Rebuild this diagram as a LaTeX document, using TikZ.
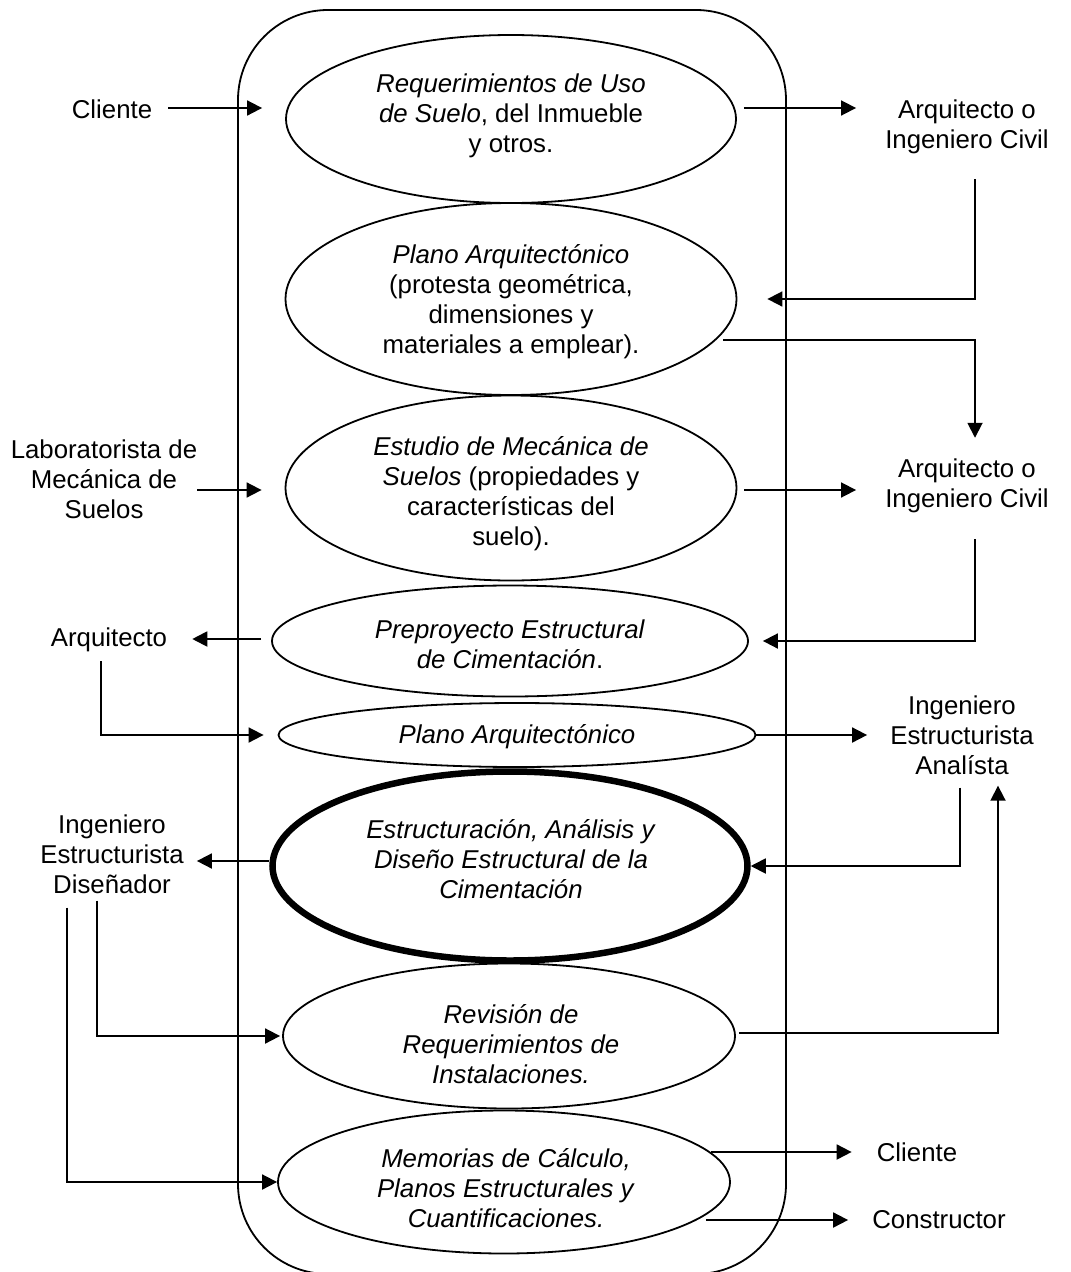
\documentclass[tikz,border=0pt]{standalone}
\usepackage{fontspec}
\setmainfont{Liberation Sans}
\usetikzlibrary{shapes.geometric,arrows.meta,calc}
\begin{document}
\begin{tikzpicture}[x=1pt,y=-1pt,
  txt/.style={inner sep=0pt, align=center, font=\fontsize{25.8}{30}\selectfont},
  ell/.style={draw, ellipse, line width=1.8pt, inner sep=0pt},
  arr/.style={draw, line width=1.8pt, -{Triangle[length=15pt,width=15pt]}},
  ]
\useasboundingbox (0,0) rectangle (1071,1272);
% frame
\node[draw, line width=1.8pt, rounded corners=90pt, minimum width=548pt, minimum height=1264pt, inner sep=0pt] (frame) at (512,642) {};
% ellipses
\node[ell, minimum width=450pt, minimum height=168pt] (e1) at (511,119) {};
\node[ell, minimum width=451pt, minimum height=192pt] (e2) at (511,299) {};
\node[ell, minimum width=451pt, minimum height=185pt] (e3) at (511,488) {};
\node[ell, minimum width=476pt, minimum height=111pt] (e4) at (510,641) {};
\node[ell, minimum width=477pt, minimum height=64pt] (e5) at (517,735) {};
\node[ell, line width=6.5pt, minimum width=475pt, minimum height=189pt] (e6) at (510,866) {};
\node[ell, minimum width=452pt, minimum height=145pt] (e7) at (509,1036) {};
\node[ell, minimum width=452pt, minimum height=143pt] (e8) at (504,1182) {};
% ellipse texts
\node[txt] (t1) at (511,116) {\textit{Requerimientos de Uso}\\\textit{de Suelo}, del Inmueble\\y otros.};
\node[txt] (t2) at (511,302) {\textit{Plano Arquitectónico}\\(protesta geométrica,\\dimensiones y\\materiales a emplear).};
\node[txt] (t3) at (511,494) {\textit{Estudio de Mecánica de}\\\textit{Suelos} (propiedades y\\características del\\suelo).};
\node[txt] (t4) at (510,644) {\textit{Preproyecto Estructural}\\\textit{de Cimentación}.};
\node[txt] (t5) at (517,737) {\textit{Plano Arquitectónico}};
\node[txt] (t6) at (511,859) {\textit{Estructuración, Análisis y}\\\textit{Diseño Estructural de la}\\\textit{Cimentación}};
\node[txt] (t7) at (511,1044) {\textit{Revisión de}\\\textit{Requerimientos de}\\\textit{Instalaciones.}};
\node[txt] (t8) at (506,1188) {\textit{Memorias de Cálculo,}\\\textit{Planos Estructurales y}\\\textit{Cuantificaciones.}};
% actors
\node[txt] (cliente) at (112,109) {Cliente};
\node[txt] (arq1) at (967,127) {Arquitecto o\\Ingeniero Civil};
\node[txt] (lab) at (104,479) {Laboratorista de\\Mecánica de\\Suelos};
\node[txt] (arq2) at (967,486) {Arquitecto o\\Ingeniero Civil};
\node[txt] (arqt) at (109,640) {Arquitecto};
\node[txt] (analista) at (962,735) {Ingeniero\\Estructurista\\Analísta};
\node[txt] (disenador) at (112,854) {Ingeniero\\Estructurista\\Diseñador};
\node[txt] (cliente2) at (917,1152) {Cliente};
\node[txt] (constructor) at (939,1220) {Constructor};
% connectors
\coordinate (cl) at (cliente.east |- 0,108);
\draw[arr, shorten <=16pt, shorten >=23pt] (cl) -- (cl -| e1.west);
\draw[arr, shorten <=7pt, shorten >=29pt] (cl -| e1.east) -- (cl -| arq1.west);
\draw[arr, shorten <=25pt, shorten >=30pt] ([xshift=8pt]arq1.south) |- (e2.east);
\draw[arr, shorten >=21pt] ($(e2.east)+(-14,41)$) -| ([xshift=8pt]arq2.north);
\coordinate (labout) at (lab.east |- 0,490);
\draw[arr, shorten >=23pt] (labout) -- (labout -| e3.west);
\draw[arr, shorten <=7pt, shorten >=29pt] (labout -| e3.east) -- (labout -| arq2.west);
\draw[arr, shorten <=26pt, shorten >=14pt] ([xshift=8pt]arq2.south) |- (e4.east);
\coordinate (e4w) at (e4.west |- 0,639);
\draw[arr, shorten <=10pt, shorten >=25pt] (e4w) -- (e4w -| arqt.east);
\draw[arr, shorten <=9pt, shorten >=14pt] ([xshift=-8pt]arqt.south) |- (e5.west);
\draw[arr, shorten >=23pt] (e5.east) -- (e5.east -| analista.west);
\draw[arr, shorten <=13pt] ([xshift=-2pt]analista.south) |- (e6.east);
\coordinate (e7e) at (e7.east |- 0,1033);
\draw[arr, shorten <=3pt, shorten >=11pt] (e7e) -| ([xshift=36pt]analista.south);
\coordinate (e6w) at (e6.west |- 0,861);
\draw[arr, shorten >=13pt] (e6w) -- (e6w -| disenador.east);
\draw[arr, shorten <=7pt, shorten >=2pt] ([xshift=-15pt]disenador.south) |- (e7.west);
\draw[arr, shorten <=14pt] ([xshift=-45pt]disenador.south) |- (e8.west);
\coordinate (c2s) at ($(cliente2.west -| e8.east)+(-20,0)$);
\draw[arr, shorten >=25pt] (c2s) -- (cliente2.west);
\coordinate (c3s) at ($(constructor.west -| e8.east)+(-25,0)$);
\draw[arr, shorten >=24pt] (c3s) -- (constructor.west);
\end{tikzpicture}
\end{document}
